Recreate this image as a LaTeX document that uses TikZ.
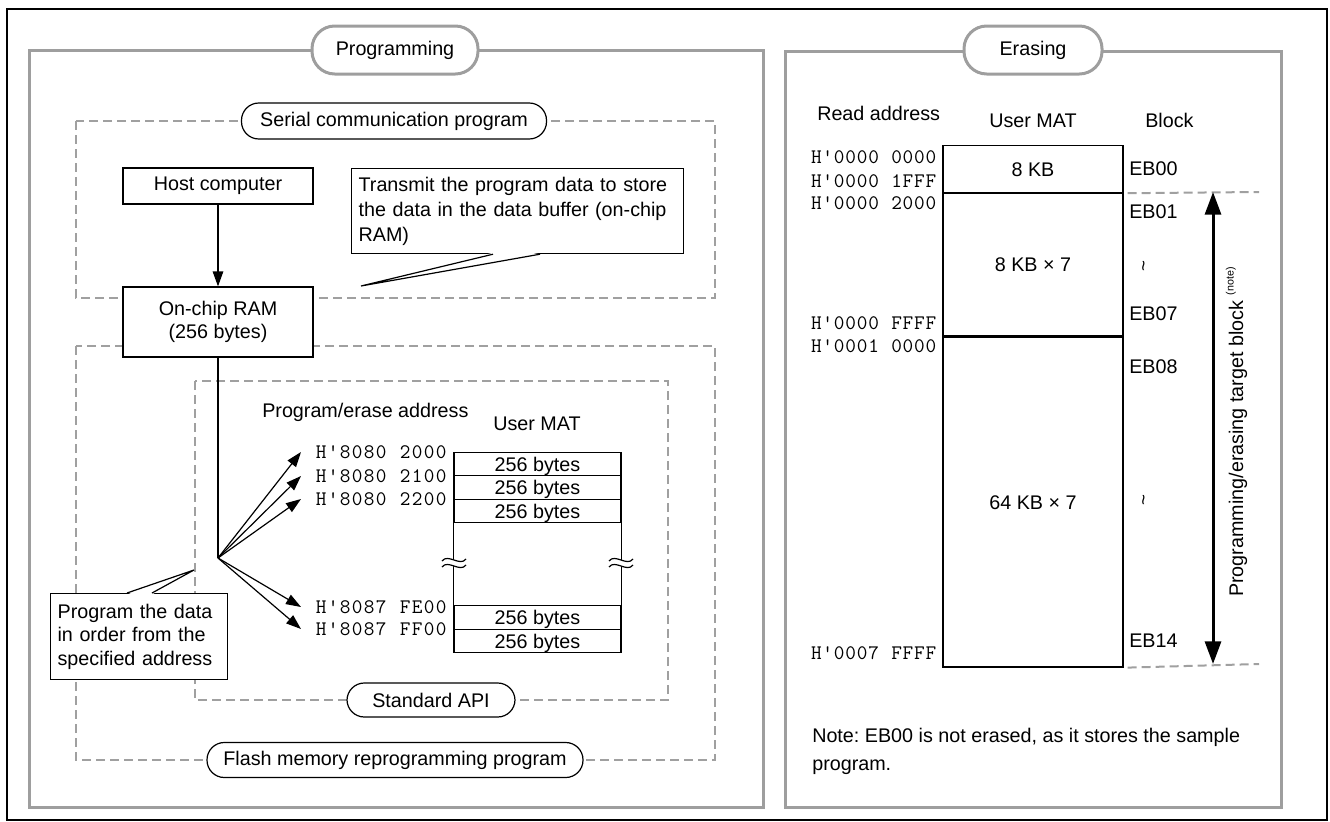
\documentclass[tikz,border=0pt]{standalone}
\usepackage{fontspec}
\setmainfont{Liberation Sans}
\usetikzlibrary{arrows.meta,calc}

\definecolor{framegray}{RGB}{158,158,158}
\definecolor{dashgray}{RGB}{160,160,160}

% hexadecimal addresses: typewriter glyphs on a fixed pitch
\newlength\addrw
\def\addrloop#1{\ifx#1\relax\else\makebox[\addrw][c]{#1}\expandafter\addrloop\fi}
\newcommand\addr[2][9pt]{{\setlength\addrw{#1}\ttfamily\fontsize{15.5}{15.5}\selectfont\addrloop#2\relax}}

\begin{document}
\begin{tikzpicture}[x=0.75pt,y=-0.75pt,
  every node/.style={font=\fontsize{14.8}{18.75}\selectfont},
  wire/.style={line width=0.9pt},
  panel/.style={draw=framegray,line width=2.25pt},
  paneltitle/.style={draw=framegray,line width=2.25pt,fill=white,rounded corners=17pt,minimum height=36pt,inner sep=0pt},
  dashbox/.style={draw=dashgray,line width=1.5pt,dash pattern=on 6.75pt off 3.75pt},
  pill/.style={draw,wire,fill=white,rounded corners=13pt,inner sep=0pt},
  box/.style={draw,wire,fill=white,inner sep=0pt},
  cell/.style={draw,wire,fill=white,inner sep=0pt,text height=10.6pt,text depth=0pt},
  lbl/.style={inner sep=0pt,text height=10.6pt,text depth=0pt},
  callout/.style={draw,wire,fill=white,align=left,inner xsep=5.25pt,inner ysep=0pt,anchor=north west},
  arr/.style={wire,-{Triangle[length=11.25pt,width=7.9pt]}},
  span/.style={line width=2.25pt,{Triangle[length=17pt,width=12pt]}-{Triangle[length=17pt,width=12pt]}},
  wave/.style={inner sep=0pt,rotate=90,font=\fontsize{14}{14}\selectfont},
]
\useasboundingbox (0,0) rectangle (1330,821);

% outer frame
\draw[line width=1.5pt] (7,9) rectangle (1327,820);

% ---------------- panels ----------------
\draw[panel] (29,50) rectangle (763,807);
\draw[panel] (785,51) rectangle (1281,807);
\node[paneltitle,minimum width=124.5pt] (ptitle) at (395,50) {Programming};
\node[paneltitle,minimum width=103.5pt] (etitle) at (1033,50) {Erasing};

% ---------------- programming: program areas ----------------
\draw[dashbox] (76,121) rectangle (715,298);
\draw[dashbox] (76,346) rectangle (715,760);
\draw[dashbox] (195,381) rectangle (668,700);
\node[pill,minimum width=228.75pt,minimum height=27pt] (serial) at (394,121) {Serial communication program};
\node[pill,minimum width=282pt,minimum height=26.25pt] (flash) at (395,760) {Flash memory reprogramming program};
\node[pill,minimum width=126pt,minimum height=25.5pt] (api) at (431,700) {Standard API};

% host and buffer
\node[box,minimum width=142.5pt,minimum height=27pt] (host) at (218,186) {Host computer};
\node[box,minimum width=142.5pt,minimum height=52.5pt,align=center,font=\fontsize{14.8}{17.25}\selectfont] (ram) at (218,322) {On-chip RAM\\(256 bytes)};
\draw[arr] (host) -- (ram);

% callout: transmit
\node[callout,text width=238.5pt,minimum height=63.75pt] (note1) at (351,168)
  {Transmit the program data to store\\the data in the data buffer (on-chip\\RAM)};
\coordinate (n1a) at ($(note1.south west)+(142,0)$);
\coordinate (n1b) at ($(note1.south west)+(189,0)$);
\coordinate (n1tip) at (361,286);
\fill[white] ($(n1a)+(0,-1.5)$) -- (n1tip) -- ($(n1b)+(0,-1.5)$) -- cycle;
\draw[wire] (n1a) -- (n1tip) -- (n1b);

% user MAT (programming side)
\node[lbl,anchor=west] (pea) at (262,410) {Program/erase address};
\node[lbl] (pmat) at (537,423) {User MAT};

\node[cell,minimum width=125.25pt,minimum height=17.625pt] (r1) at (537.5,464) {256 bytes};
\node[cell,minimum width=125.25pt,minimum height=17.625pt] (r2) at (537.5,487.5) {256 bytes};
\node[cell,minimum width=125.25pt,minimum height=17.625pt] (r3) at (537.5,511) {256 bytes};
\node[cell,minimum width=125.25pt,minimum height=17.625pt] (r4) at (537.5,617.5) {256 bytes};
\node[cell,minimum width=125.25pt,minimum height=17.625pt] (r5) at (537.5,641) {256 bytes};
\draw[wire] (r3.south west) -- (r4.north west);
\draw[wire] (r3.south east) -- (r4.north east);

% break marks on the table sides
\foreach \bx in {454,621} {
  \def\by{562}
  \fill[white] (\bx-12,\by-1) .. controls (\bx-6,\by-9) and (\bx+6,\by+5) .. (\bx+12,\by-3)
     -- (\bx+12,\by+3) .. controls (\bx+6,\by+11) and (\bx-6,\by-3) .. (\bx-12,\by+5) -- cycle;
  \draw[wire] (\bx-12,\by-1) .. controls (\bx-6,\by-9) and (\bx+6,\by+5) .. (\bx+12,\by-3);
  \draw[wire] (\bx-12,\by+5) .. controls (\bx-6,\by-3) and (\bx+6,\by+11) .. (\bx+12,\by+3);
}

% addresses
\node[inner sep=0pt,anchor=west] (a1) at (315,452) {\addr{H\textquotesingle8080~2000}};
\node[inner sep=0pt,anchor=west] (a2) at (315,476) {\addr{H\textquotesingle8080~2100}};
\node[inner sep=0pt,anchor=west] (a3) at (315,499) {\addr{H\textquotesingle8080~2200}};
\node[inner sep=0pt,anchor=west] (a4) at (315,607) {\addr{H\textquotesingle8087~FE00}};
\node[inner sep=0pt,anchor=west] (a5) at (315,629) {\addr{H\textquotesingle8087~FF00}};

% data path from the buffer to the addresses
\coordinate (fan) at (218,558);
\draw[wire] (ram.south) -- (fan);
\foreach \n in {a1,a2,a3,a4,a5}
  \draw[arr] (fan) -- ([xshift=-10.5pt]\n.west);

% callout: program order
\node[callout,text width=122.25pt,minimum height=64.5pt,font=\fontsize{14.8}{17.6}\selectfont] (note2) at (50,593)
  {Program the data\\in order from the\\specified address};
\coordinate (n2a) at ($(note2.north west)+(77,0)$);
\coordinate (n2b) at ($(note2.north west)+(102,0)$);
\coordinate (n2tip) at (194,570);
\fill[white] ($(n2a)+(0,1.5)$) -- (n2tip) -- ($(n2b)+(0,1.5)$) -- cycle;
\draw[wire] (n2a) -- (n2tip) -- (n2b);

% ---------------- erasing ----------------
\node[lbl,anchor=west] (rdh) at (817,113) {Read address};
\node[lbl] (emat) at (1033,120) {User MAT};
\node[lbl,anchor=west] (blk) at (1145,120) {Block};

\node[cell,minimum width=135pt,minimum height=35.25pt,anchor=north] (m1) at (1033,145) {8 KB};
\node[cell,minimum width=135pt,minimum height=106.5pt,anchor=north] (m2) at (m1.south) {8 KB × 7};
\node[cell,minimum width=135pt,minimum height=247.5pt,anchor=north] (m3) at (m2.south) {64 KB × 7};

\node[inner sep=0pt,anchor=east] (e1) at (937,157) {\addr[8.6pt]{H\textquotesingle0000~0000}};
\node[inner sep=0pt,anchor=east] (e2) at (937,181) {\addr[8.6pt]{H\textquotesingle0000~1FFF}};
\node[inner sep=0pt,anchor=east] (e3) at (937,203) {\addr[8.6pt]{H\textquotesingle0000~2000}};
\node[inner sep=0pt,anchor=east] (e4) at (937,323) {\addr[8.6pt]{H\textquotesingle0000~FFFF}};
\node[inner sep=0pt,anchor=east] (e5) at (937,346) {\addr[8.6pt]{H\textquotesingle0001~0000}};
\node[inner sep=0pt,anchor=east] (e6) at (937,653) {\addr[8.6pt]{H\textquotesingle0007~FFFF}};

\node[lbl,anchor=west] (b00) at (1129,168) {EB00};
\node[lbl,anchor=west] (b01) at (1129,211) {EB01};
\node[wave] (t1) at (1146,266) {\textasciitilde};
\node[lbl,anchor=west] (b07) at (1129,313) {EB07};
\node[lbl,anchor=west] (b08) at (1129,366) {EB08};
\node[wave] (t2) at (1146,500) {\textasciitilde};
\node[lbl,anchor=west] (b14) at (1129,640) {EB14};

% target range
\coordinate (d1) at (1259,192);
\coordinate (d2) at (1259,664);
\draw[dashbox] ([xshift=3pt]m1.south east) -- (d1);
\draw[dashbox] ([xshift=3pt]m3.south east) -- (d2);
\coordinate (sa) at (1213,192);
\coordinate (sb) at (1213,664);
\draw[span] (sa) -- (sb);
\node[inner sep=0pt,rotate=90,anchor=base west] (tgt) at (1243,597)
  {Programming/erasing target block \raisebox{7pt}{\fontsize{8}{8}\selectfont(note)}};

\node[inner sep=0pt,anchor=north west,align=left,font=\fontsize{14.8}{21}\selectfont\frenchspacing] (note) at (812,728)
  {Note: EB00 is not erased, as it stores the sample\\program.};
\end{tikzpicture}
\end{document}
